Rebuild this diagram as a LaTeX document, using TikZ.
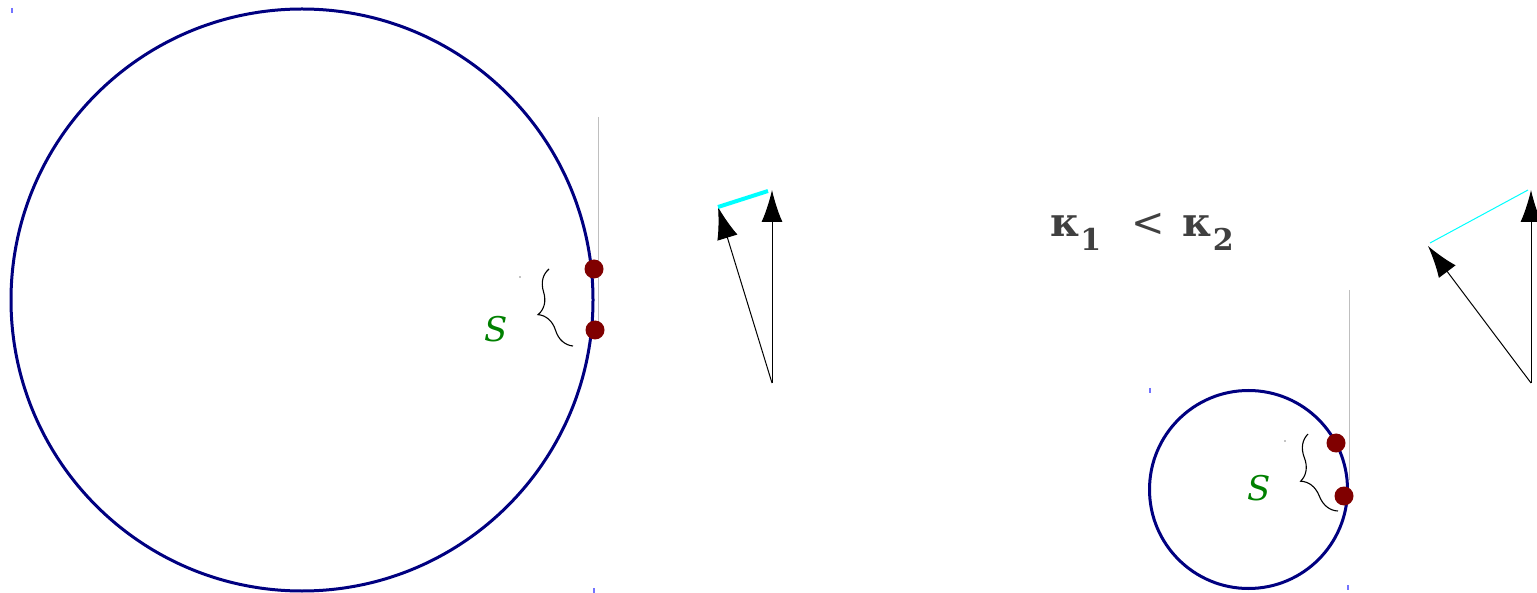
\documentclass[tikz,border=0pt]{standalone}
\usepackage{fontspec}
\newfontfamily\dejaserif{DejaVu Serif}
\usetikzlibrary{arrows.meta}
\usetikzlibrary{calc}
\usetikzlibrary{decorations.pathreplacing}
\definecolor{ringblue}{RGB}{0,0,128}
\definecolor{dotred}{RGB}{128,0,0}
\definecolor{sgreen}{RGB}{0,128,0}
\definecolor{kapgray}{RGB}{64,64,64}
\definecolor{chordcyan}{RGB}{0,255,255}
\tikzset{>=Latex}
\tikzstyle{ring} = [line width = 3pt, color = ringblue]
\tikzstyle{spot} = [circle, fill = dotred, inner sep = 0, minimum size = 19pt]
\tikzstyle{guide} = [line width = 1pt, color = gray!50]
\tikzstyle{arcbrace} = [line width = 1.1pt, black, decorate, decoration = {brace, amplitude = 24pt}]
\tikzstyle{vec} = [line width = 1pt, -{Latex[length = 32pt, width = 21pt]}]
\tikzstyle{corner} = [line width = 1.5pt, color = blue!55]
\newcommand\kapsub[1]{\raisebox{-0.35em}{\fontsize{30}{30}\selectfont #1}}

\begin{document}
\begin{tikzpicture}[x=1pt, y=-1pt]
    % pixel frame, y pointing down
    \useasboundingbox (0,0) rectangle (1537,593);

    % big circle (small curvature)
    \draw[ring] (302,300) circle [radius = 291];
    \draw[guide] (598,117) coordinate(g1) -- (598,330) coordinate(g2);
    \node[spot] (p1) at (594,269) {};
    \node[spot] (p2) at (595,330) {};
    \draw[arcbrace] (573,346) coordinate(b1) -- (549,269) coordinate(b2);
    \fill[black] (520,277) circle (0.6);
    \node[text = sgreen, font = \fontsize{34}{34}\selectfont\dejaserif\itshape] (s1) at (496,329) {S};

    % tangent vectors, first circle
    \coordinate (o1) at (772,383);
    \coordinate (t1) at (772,190);
    \coordinate (u1) at (718,207);
    \draw[vec] (o1) -- (t1);
    \draw[vec] (o1) -- (u1);
    \draw[chordcyan, line width = 4pt] (u1) -- (768,191) coordinate(v1);

    % the curvature relation
    \node[text = kapgray, font = \fontsize{40}{40}\selectfont\dejaserif\bfseries] (kap) at (1142,232)
        {κ\kapsub{1}\hspace{0.75em}{\mdseries<}\hspace{0.45em}κ\kapsub{2}};

    % small circle (large curvature)
    \draw[ring] (1248.5,489.5) circle [radius = 99];
    \draw[guide] (1349,290) coordinate(g3) -- (1349,480) coordinate(g4);
    \node[spot] (p3) at (1336,443) {};
    \node[spot] (p4) at (1344,496) {};
    \draw[arcbrace] (1338,511) coordinate(b3) -- (1308,434) coordinate(b4);
    \fill[black] (1285,441) circle (0.6);
    \node[text = sgreen, font = \fontsize{34}{34}\selectfont\dejaserif\itshape] (s2) at (1259,488) {S};

    % tangent vectors, second circle
    \coordinate (o2) at (1531,383);
    \coordinate (t2) at (1531,190);
    \coordinate (u2) at (1428,246);
    \draw[vec] (o2) -- (t2);
    \draw[vec] (o2) -- (u2);
    \draw[chordcyan, line width = 1pt] (1430,243) coordinate(v2) -- (1528,190) coordinate(v3);

    % stray box corners
    \draw[corner] (12,8) -- (12,13);
    \draw[corner] (594,588) -- (594,593);
    \draw[corner] (1150,388) -- (1150,393);
    \draw[corner] (1348,585) -- (1348,590);
\end{tikzpicture}
\end{document}
